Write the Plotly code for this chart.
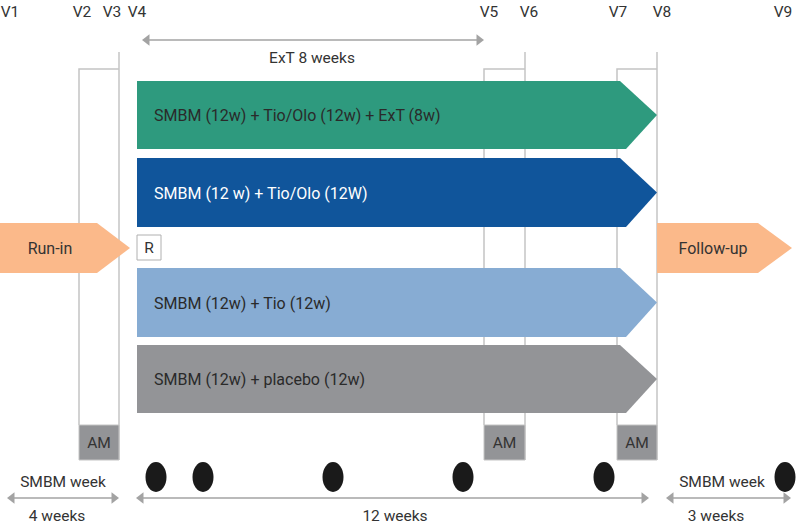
import plotly.graph_objects as go

W, H = 797, 525
FONT = "Roboto"
TXT = "#333333"
LINE = "#c4c4c4"
ARROW = "#a3a3a3"

# Visits (timeline markers)
visit_labels = ["V1", "V2", "V3", "V4", "V5", "V6", "V7", "V8", "V9"]
visit_x = [10, 82, 112, 137, 489, 529, 618, 662, 783]

# Treatment arms
arm_labels = [
    "SMBM (12w) + Tio/Olo (12w) + ExT (8w)",
    "SMBM (12 w) + Tio/Olo (12W)",
    "SMBM (12w) + Tio (12w)",
    "SMBM (12w) + placebo (12w)",
]
arm_colors = ["#2e9a7e", "#10559b", "#87acd3", "#939497"]
arm_text_colors = ["#2a2a2a", "#ffffff", "#2a2a2a", "#2a2a2a"]
arm_top = [81, 158, 268, 345]
arm_bottom = [149, 227, 337, 413]
arm_x0, arm_x1, arm_tip = 137, 623, 657

# Run-in / follow-up
phase_labels = ["Run-in", "Follow-up"]
phase_x0 = [0, 657]
phase_x1 = [97, 758]
phase_tip = [130, 792]
phase_label_x = [50, 713]
phase_top, phase_bottom = 223, 273
phase_color = "#fbb98a"

# AM boxes (assessment windows)
am_x0 = [79, 484, 617]
am_x1 = [119, 525, 657]
am_top, am_mid, am_bottom, bracket_top = 69, 425, 460, 52

# Black ovals (visits with measurements)
oval_x = [156, 203, 333, 463, 604, 785]
oval_y = 477

# Duration arrows
dur_labels = ["ExT 8 weeks", "4 weeks", "12 weeks", "3 weeks"]
dur_x0 = [143, 8, 137, 667]
dur_x1 = [483, 118, 648, 790]
dur_y = [40, 498, 498, 498]
dur_label_x = [312, 57, 395, 716]
dur_label_y = [57, 515, 515, 515]

smbm_week_x = [63, 722]
smbm_week_y = 481

fig = go.Figure()

def poly(xs, ys, color, line_color=None, lw=0):
    fig.add_trace(go.Scatter(
        x=xs + [xs[0]], y=ys + [ys[0]], mode="lines", fill="toself",
        fillcolor=color, line=dict(color=line_color or color, width=lw),
        hoverinfo="skip", showlegend=False))

def seg(xs, ys, color=LINE, lw=1.5):
    fig.add_trace(go.Scatter(x=xs, y=ys, mode="lines",
                             line=dict(color=color, width=lw),
                             hoverinfo="skip", showlegend=False))

def text(x, y, s, color=TXT, size=15.5, pos="middle center"):
    fig.add_trace(go.Scatter(x=[x], y=[y + 2], mode="text", text=[s],
                             textposition=pos,
                             textfont=dict(family=FONT, size=size, color=color),
                             hoverinfo="skip", showlegend=False))

# Bracket boxes and vertical visit lines
for a, b in zip(am_x0, am_x1):
    seg([a, a, b], [am_mid, am_top, am_top])
    seg([b, b], [bracket_top, am_bottom])
    poly([a, b, b, a], [am_mid, am_mid, am_bottom, am_bottom], "#939497", LINE, 1)
    text((a + b) / 2, (am_mid + am_bottom) / 2, "AM")

# Treatment arm arrows
for lab, c, tc, t, b in zip(arm_labels, arm_colors, arm_text_colors, arm_top, arm_bottom):
    m = (t + b) / 2
    poly([arm_x0, arm_x1 - 3, arm_tip, arm_x1 + 3, arm_x0],
         [t, t, m, b, b], c)
    text(arm_x0 + 17, m, lab, color=tc, size=16, pos="middle right")

# Run-in / Follow-up arrows
for lab, a, b, tip, lx in zip(phase_labels, phase_x0, phase_x1, phase_tip, phase_label_x):
    m = (phase_top + phase_bottom) / 2
    poly([a, b, tip, b, a], [phase_top, phase_top, m, phase_bottom, phase_bottom], phase_color)
    text(lx, m, lab, size=16)

# Randomisation box
poly([137, 161, 161, 137], [235, 235, 260, 260], "#ffffff", "#b0b0b0", 1)
text(149, 247, "R")

# Visit labels
for lab, x in zip(visit_labels, visit_x):
    text(x, 11, lab)

# Duration arrows
for lab, a, b, y, lx, ly in zip(dur_labels, dur_x0, dur_x1, dur_y, dur_label_x, dur_label_y):
    seg([a + 4, b - 4], [y, y], ARROW, 1.5)
    fig.add_trace(go.Scatter(x=[a + 4, b - 4], y=[y, y], mode="markers",
                             marker=dict(symbol=["triangle-left", "triangle-right"],
                                         size=10, color=ARROW),
                             hoverinfo="skip", showlegend=False))
    text(lx, ly, lab)

for x in smbm_week_x:
    text(x, smbm_week_y, "SMBM week")

# Ovals
for x in oval_x:
    fig.add_shape(type="circle", xref="x", yref="y",
                  x0=x - 10.5, x1=x + 10.5, y0=oval_y - 15, y1=oval_y + 15,
                  fillcolor="#1a1a1a", line=dict(width=0))

fig.update_layout(
    width=W, height=H, margin=dict(l=0, r=0, t=0, b=0),
    plot_bgcolor="white", paper_bgcolor="white",
    xaxis=dict(range=[0, W], visible=False, fixedrange=True),
    yaxis=dict(range=[H, 0], visible=False, fixedrange=True),
    showlegend=False,
)
fig.write_html("out.html", config={"displayModeBar": False},
               post_script="document.body.style.margin='0';document.body.style.overflow='hidden';")
